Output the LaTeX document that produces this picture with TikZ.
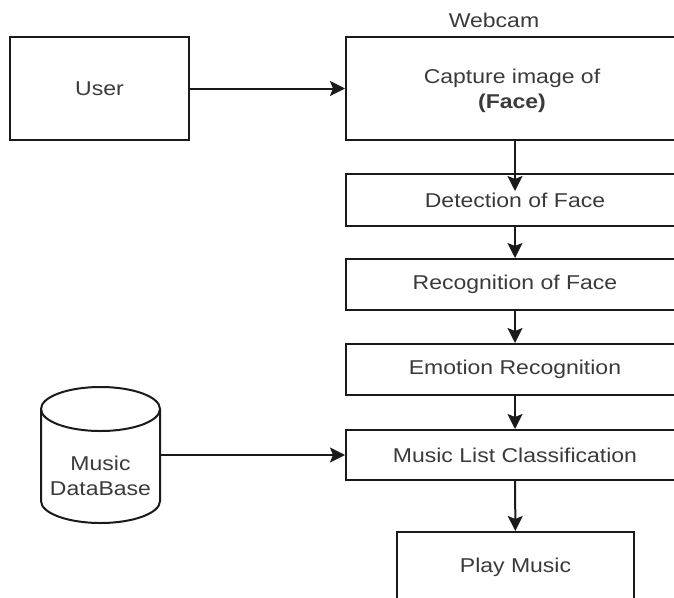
\documentclass[tikz,border=0pt]{standalone}
\usepackage{fontspec}
\setmainfont[FakeStretch=1.15]{Liberation Sans}
\usetikzlibrary{arrows.meta}
\definecolor{txtgray}{HTML}{3A3A3A}
\definecolor{edgegray}{HTML}{1A1A1A}
\newcommand{\linew}{2pt}
\newcommand{\ry}{22pt}

\begin{document}
\begin{tikzpicture}[x=1pt,y=-1pt,
  txt/.style={text=txtgray, font=\fontsize{20}{25}\selectfont, align=center, inner sep=0pt},
  box/.style={txt, draw=edgegray, line width=\linew},
  arr/.style={draw=edgegray, line width=\linew, -{Stealth[length=15pt,width=15pt,inset=3pt]}}]
\clip (0,0) rectangle (674,597);
\node[box, minimum width=179, minimum height=103] (user) at (99.5,88.5) {User};
\node[txt] (webcam) at (494,20) {Webcam};
\node[box, minimum width=338, minimum height=103] (capture) at (515,88.5) {};
\node[txt] (capturetext) at (512,91) {Capture image of\\\textbf{(Face)}};
\node[box, minimum width=338, minimum height=52] (detect) at (515,200) {Detection of Face};
\node[box, minimum width=338, minimum height=51] (recog) at (515,284.5) {Recognition of Face};
\node[box, minimum width=338, minimum height=51] (emotion) at (515,369.5) {Emotion Recognition};
\node[box, minimum width=338, minimum height=50] (musiclist) at (515,455) {Music List Classification};
\node[box, minimum width=237, minimum height=70] (play) at (515.5,567) {Play Music};
% database
\node[minimum width=119, minimum height=136, inner sep=0pt] (db) at (100.5,455) {};
\draw[draw=edgegray, line width=\linew] (41,409) -- (41,501) arc[start angle=180, end angle=360, x radius=59.5pt, y radius=\ry] -- (160,409);
\draw[draw=edgegray, line width=\linew] (100.5,409) ellipse [x radius=59.5pt, y radius=\ry];
\node[txt] (dbtext) at (100.5,476) {Music\\DataBase};
% arrows
\draw[arr] (user) -- (capture);
\draw[arr] (capture) -- ([yshift=-18pt]detect.north);
\draw[arr] (detect) -- (recog);
\draw[arr] (recog) -- (emotion);
\draw[arr] (emotion) -- (musiclist);
\draw[arr] (db) -- (musiclist);
\draw[arr] (musiclist) -- (play);
\end{tikzpicture}
\end{document}
